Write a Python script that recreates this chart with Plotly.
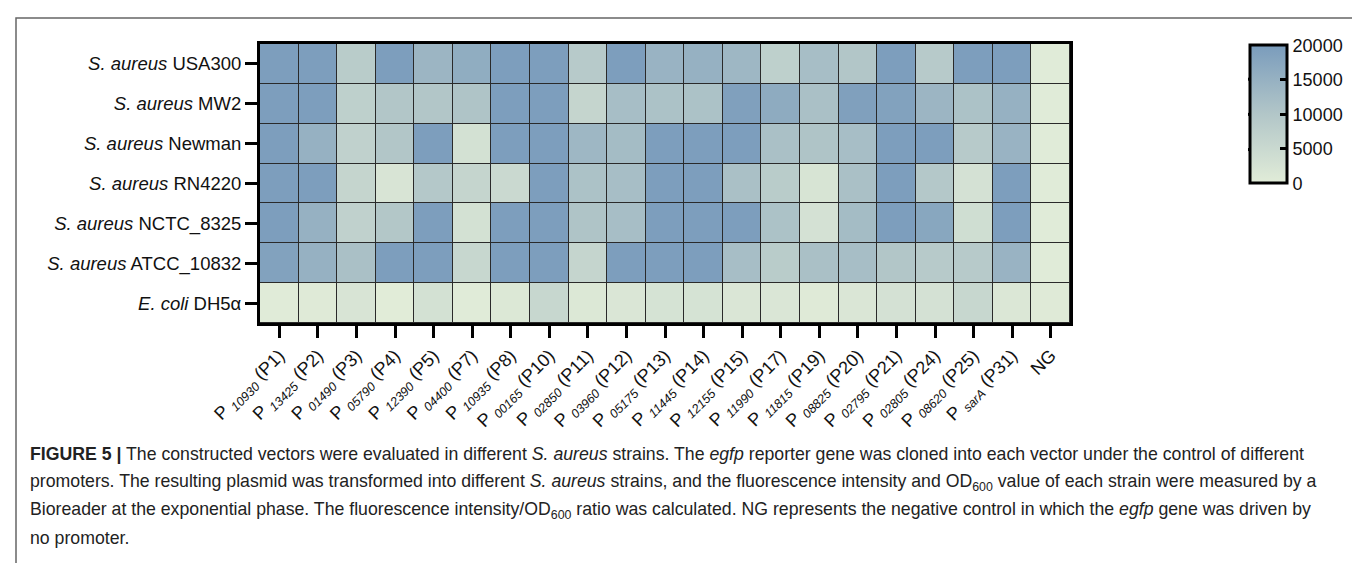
import plotly.graph_objects as go

# ---------------- data ----------------
promoters = ["10930", "13425", "01490", "05790", "12390", "04400", "10935", "00165", "02850",
             "03960", "05175", "11445", "12155", "11990", "11815", "08825", "02795", "02805",
             "08620", "sarA"]
promoter_ids = ["P1", "P2", "P3", "P4", "P5", "P7", "P8", "P10", "P11", "P12", "P13", "P14",
                "P15", "P17", "P19", "P20", "P21", "P24", "P25", "P31"]
strains_species = ["S. aureus"] * 6 + ["E. coli"]
strains_names = ["USA300", "MW2", "Newman", "RN4220", "NCTC_8325", "ATCC_10832", "DH5α"]

# columns: P1 P2 P3 P4 P5 P7 P8 P10 P11 P12 P13 P14 P15 P17 P19 P20 P21 P24 P25 P31 NG
usa300 = [19500, 19500, 8500, 19500, 14000, 16000, 19500, 19500, 9000, 19500, 14500, 15000,
          13500, 7500, 12000, 10000, 19500, 9000, 19500, 19500, 300]
mw2 = [19500, 19500, 7500, 10000, 10000, 10500, 19500, 19500, 6000, 12000, 11000, 11000,
       19000, 16500, 11500, 19000, 18500, 14000, 11000, 15000, 300]
newman = [19500, 15000, 7000, 10000, 19500, 3000, 19500, 19500, 13500, 12500, 19500, 19500,
          19500, 11500, 10500, 12000, 19500, 19500, 9000, 14500, 300]
rn4220 = [19500, 19500, 6000, 2000, 9500, 6000, 5000, 19500, 11000, 12000, 19500, 19500,
          11500, 8500, 2200, 11500, 19500, 9500, 2800, 19500, 300]
nctc8325 = [19500, 15000, 7000, 9800, 19500, 3000, 19500, 19500, 10500, 12000, 19500, 19500,
            19500, 11000, 2800, 12500, 19500, 17500, 3800, 19500, 300]
atcc10832 = [18500, 15000, 11500, 19500, 19500, 5500, 19500, 19500, 6000, 19500, 19500, 19500,
             12000, 8500, 11500, 12000, 10000, 9000, 9000, 14500, 300]
ecoli = [300, 500, 2000, 100, 3000, 200, 1000, 5500, 1000, 1500, 2500, 2500, 1500, 1500, 400,
         1500, 2800, 2800, 5500, 1200, 400]

cbar_ticks = [0, 5000, 10000, 15000, 20000]

caption_lines = [
    "<b>FIGURE 5 |</b> The constructed vectors were evaluated in different <i>S. aureus</i> strains. "
    "The <i>egfp</i> reporter gene was cloned into each vector under the control of different",
    "promoters. The resulting plasmid was transformed into different <i>S. aureus</i> strains, and the "
    "fluorescence intensity and OD<sub>600</sub> value of each strain were measured by a",
    "Bioreader at the exponential phase. The fluorescence intensity/OD<sub>600</sub> ratio was calculated. "
    "NG represents the negative control in which the <i>egfp</i> gene was driven by",
    "no promoter.",
]

# ---------------- layout geometry ----------------
W, H = 1360, 563
L, R = 252, 1062
T, B = 36, 315.5
PW, PH = R - L, B - T


def px_x(px):
    return (px - L) / PW


def px_y(py):
    return (B - py) / PH


z = [usa300, mw2, newman, rn4220, nctc8325, atcc10832, ecoli]
xticktext = [f"P <sub><i>{p}</i></sub> ({i})" for p, i in zip(promoters, promoter_ids)] + ["NG"]
yticktext = [f"<i>{s}</i> {n}" for s, n in zip(strains_species, strains_names)]
ncol = len(xticktext)
nrow = len(yticktext)

colorscale = [[0.0, "#e1ecd8"], [0.5, "#b2c6c8"], [1.0, "#7a9cbc"]]

CB_L, CB_R, CB_T, CB_B = 1240, 1280, 36, 177
OUT = 3
FONT = "Liberation Sans, Arial"

fig = go.Figure()
fig.add_trace(go.Heatmap(
    z=z, x=list(range(ncol)), y=list(range(nrow)),
    zmin=0, zmax=20000, colorscale=colorscale,
    xgap=1, ygap=1, hoverongaps=False,
    colorbar=dict(
        x=px_x(CB_L + OUT / 2), xanchor="left", xpad=0,
        y=1 - (CB_T + OUT / 2 - T) / PH, yanchor="top", ypad=0,
        thickness=CB_R - CB_L - OUT, thicknessmode="pixels",
        len=CB_B - CB_T - OUT, lenmode="pixels",
        outlinewidth=OUT, outlinecolor="#000",
        tickvals=cbar_ticks, ticktext=[str(v) for v in cbar_ticks],
        ticks="inside", ticklen=8, tickwidth=3, tickcolor="#000",
        tickfont=dict(family=FONT, size=18, color="#111"),
    ),
))

fig.update_xaxes(
    range=[-0.5, ncol - 0.5], tickvals=list(range(ncol)), ticktext=xticktext,
    tickangle=-45, ticks="outside", ticklen=12, tickwidth=3, tickcolor="#000",
    showline=True, linewidth=3, linecolor="#000", mirror=True, showgrid=False, zeroline=False,
    tickfont=dict(family=FONT, size=18, color="#111"),
)
fig.update_yaxes(
    range=[nrow - 0.5, -0.5], tickvals=list(range(nrow)), ticktext=yticktext,
    ticks="outside", ticklen=12, tickwidth=3, tickcolor="#000",
    showline=True, linewidth=3, linecolor="#000", mirror=True, showgrid=False, zeroline=False,
    tickfont=dict(family=FONT, size=18.5, color="#111"),
)

shapes = []
# left-side inner ticks of the colorbar
for v in cbar_ticks[1:-1]:
    py = CB_B - (CB_B - CB_T) * v / 20000
    shapes.append(dict(type="line", xref="paper", yref="paper",
                       x0=px_x(CB_L), x1=px_x(CB_L + 9), y0=px_y(py), y1=px_y(py),
                       line=dict(color="#000", width=3)))
# outer frame of the figure panel
shapes.append(dict(type="rect", xref="paper", yref="paper",
                   x0=px_x(8), x1=px_x(1356), y0=px_y(575), y1=px_y(10),
                   line=dict(color="#666", width=1.5)))

annotations = []
cap_y = [447, 475, 503, 531]
for txt, py in zip(caption_lines, cap_y):
    annotations.append(dict(text=txt, xref="paper", yref="paper", x=px_x(20), y=px_y(py),
                            xanchor="left", yanchor="middle", showarrow=False, align="left",
                            font=dict(family=FONT, size=17.7, color="#222")))

fig.update_layout(
    width=W, height=H,
    margin=dict(l=L, r=W - R, t=T, b=H - B, pad=0),
    plot_bgcolor="#2a2a2a", paper_bgcolor="#fff",
    shapes=shapes, annotations=annotations,
)

fig.write_html("out.html")
